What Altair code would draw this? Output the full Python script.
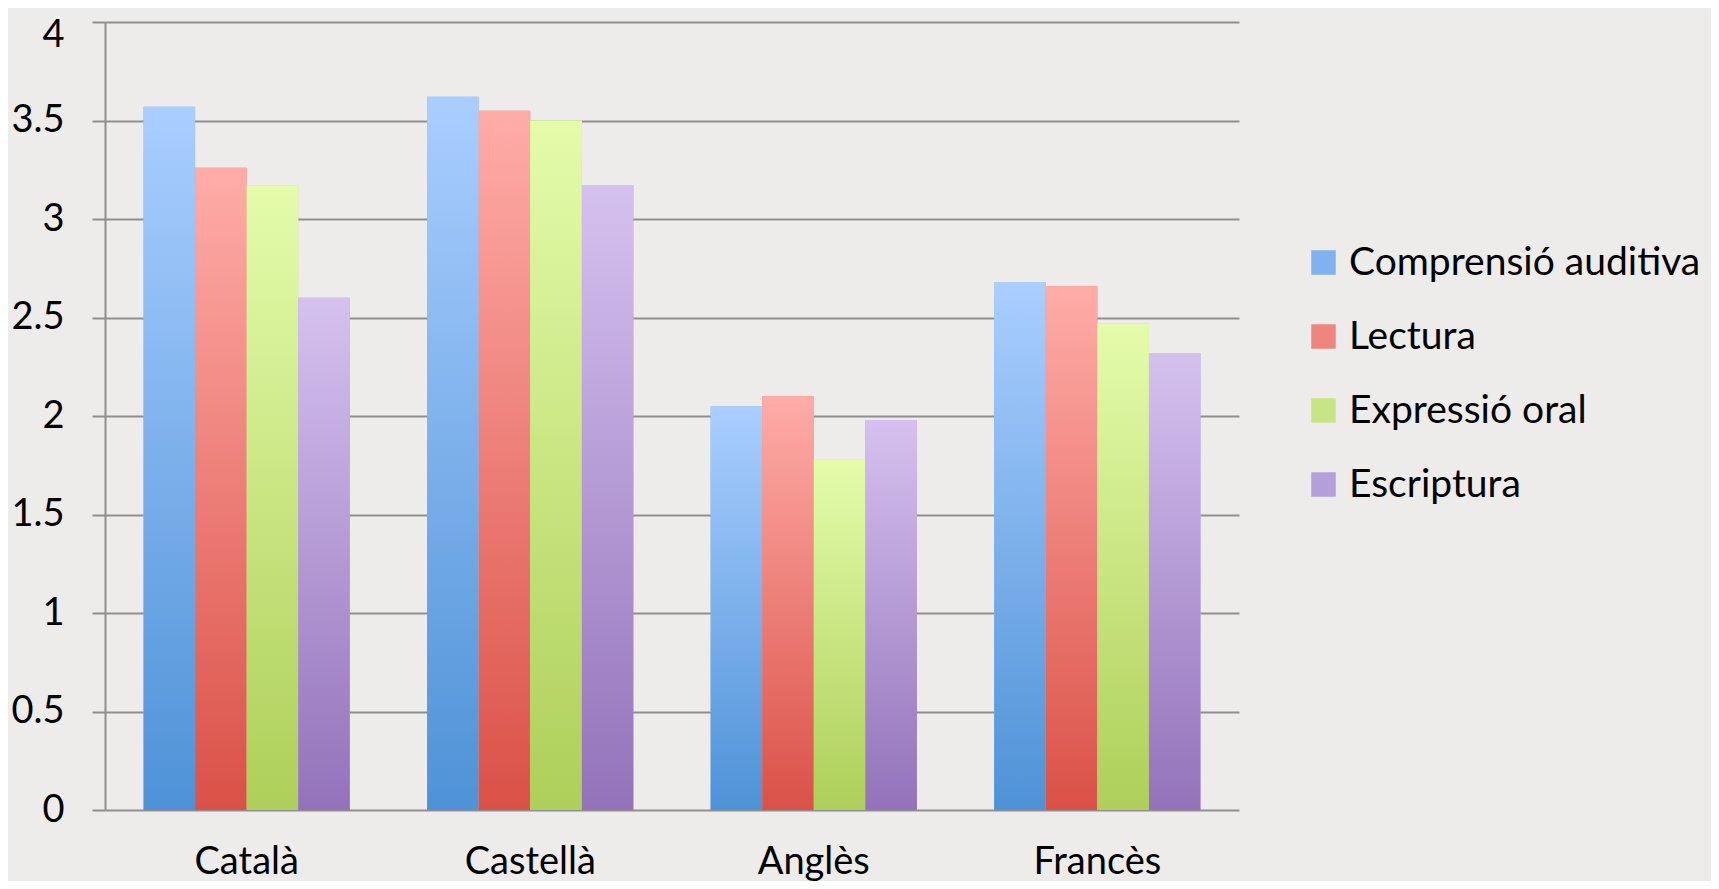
import altair as alt
import pandas as pd

idiomes = ["Català", "Castellà", "Anglès", "Francès"]
series = ["Comprensió auditiva", "Lectura", "Expressió oral", "Escriptura"]
comprensio = [3.57, 3.62, 2.05, 2.68]
lectura = [3.26, 3.55, 2.10, 2.66]
expressio = [3.17, 3.50, 1.78, 2.47]
escriptura = [2.60, 3.17, 1.98, 2.32]
y_ticks = [0, 0.5, 1, 1.5, 2, 2.5, 3, 3.5, 4]

mid_colors = ["#7FB2EE", "#EF857E", "#C8E586", "#B59FDA"]
top_colors = ["#AACEFF", "#FFACA8", "#E4FCAB", "#D5C1EF"]
bot_colors = ["#4E92D7", "#DA5147", "#AECF59", "#9372BA"]

rows = []
for s, vals in zip(series, [comprensio, lectura, expressio, escriptura]):
    for c, v in zip(idiomes, vals):
        rows.append({"Idioma": c, "Sèrie": s, "Valor": v})
df = pd.DataFrame(rows)

FONT = "Lato"
GRID = "#8F8F8F"

x_enc = alt.X("Idioma:N", sort=idiomes,
              scale=alt.Scale(paddingInner=0.2727, paddingOuter=0.136),
              axis=alt.Axis(title=None, labelAngle=0, ticks=False, domain=False,
                            labelFontSize=38, labelFont=FONT, labelColor="#000000",
                            labelPadding=33))
xo_enc = alt.XOffset("Sèrie:N", sort=series,
                     scale=alt.Scale(domain=series, paddingInner=0, paddingOuter=0))
y_enc = alt.Y("Valor:Q", scale=alt.Scale(domain=[0, 4], nice=False),
              axis=alt.Axis(title=None, values=y_ticks, format="~g",
                            grid=True, gridColor=GRID, gridWidth=2, gridOpacity=1,
                            tickColor=GRID, tickWidth=2, tickSize=13,
                            domainColor=GRID, domainWidth=2,
                            labelFontSize=38, labelFont=FONT, labelColor="#000000",
                            labelPadding=28,
                            labelBaseline={"condition": {"test": "datum.value >= 3.9", "value": "top"},
                                           "value": "middle"},
                            labelOffset={"condition": {"test": "datum.value >= 3.9", "value": -6},
                                         "value": 0}))

base = alt.Chart(df).mark_bar().encode(
    x=x_enc, xOffset=xo_enc, y=y_enc,
    color=alt.Color("Sèrie:N", sort=series,
                    scale=alt.Scale(domain=series, range=mid_colors),
                    legend=alt.Legend(title=None, orient="none", legendX=1199, legendY=221,
                                      symbolType="square", symbolSize=600,
                                      symbolStrokeWidth=0, labelFontSize=39,
                                      labelFont=FONT, labelColor="#000000",
                                      labelOffset=6, rowPadding=34,
                                      labelLimit=600)),
)

layers = [base]
for s, t, b in zip(series, top_colors, bot_colors):
    grad = alt.Gradient(gradient="linear",
                        stops=[alt.GradientStop(color=t, offset=0),
                               alt.GradientStop(color=b, offset=1)],
                        x1=0, x2=0, y1=0, y2=1)
    layers.append(
        alt.Chart(df).transform_filter(alt.datum["Sèrie"] == s)
        .mark_bar(color=grad).encode(x=x_enc, xOffset=xo_enc, y=y_enc)
    )

chart = alt.layer(*layers).properties(
    width=1134, height=788,
    autosize=alt.AutoSizeParams(type="none"),
    padding={"left": 97, "top": 14, "right": 472, "bottom": 71},
    background="#EEEBEB",
).configure_view(stroke=None)

chart.save("out.html", embed_options={"renderer": "svg", "actions": False})
